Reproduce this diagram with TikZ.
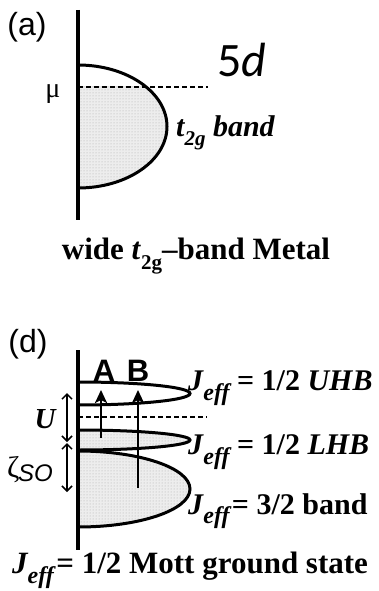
\documentclass[tikz,border=0pt]{standalone}
\usepackage{fontspec}
\setmainfont{Liberation Serif}
\setsansfont{Liberation Sans}
\newfontfamily\calibri{Carlito}
\usetikzlibrary{arrows.meta,patterns}
\tikzset{
  axisline/.style={line width=3.6pt},
  bandline/.style={line width=3pt},
  bandfill/.style={fill=gray!14},
  bandpat/.style={pattern=dots, pattern color=gray!65},
  dashline/.style={line width=1.4pt, dash pattern=on 5pt off 3pt},
  lbl/.style={inner sep=0pt, anchor=west},
  biglbl/.style={inner sep=0pt, font=\fontsize{31}{33}\selectfont\bfseries},
  panel/.style={inner sep=0pt, font=\sffamily\fontsize{32}{34}\selectfont},
  exarrow/.style={line width=2.6pt, -{Stealth[length=13pt,width=12pt,inset=3pt]}},
  gaparrow/.style={line width=1.5pt, {Straight Barb[length=5pt,width=10pt]}-{Straight Barb[length=5pt,width=10pt]}},
}
\newcommand{\Jeff}{\textit{J}\kern-0.02em\raisebox{-0.32em}{\fontsize{24}{26}\selectfont\itshape eff}}
\begin{document}
\begin{tikzpicture}[x=1pt,y=-1pt]
\useasboundingbox (0,0) rectangle (379,591);
% ---------- panel (a)
\node[panel] (pa) at (27,27) {(a)};
\node[inner sep=0pt, font=\calibri\fontsize{48}{50}\selectfont] (fived) at (242,60) {5\textit{d}};
\begin{scope}
  \clip (78,87) rectangle (250,200);
  \fill[bandfill] (78,65) arc[start angle=-90,end angle=90,x radius=89,y radius=61.5] -- cycle;
  \fill[bandpat] (78,65) arc[start angle=-90,end angle=90,x radius=89,y radius=61.5] -- cycle;
\end{scope}
\draw[bandline] (78,65) arc[start angle=-90,end angle=90,x radius=89,y radius=61.5];
\coordinate (mua) at (78,87);
\coordinate (mub) at (208,87);
\draw[dashline] (mua) -- (mub);
\draw[axisline] (78,10) -- (78,220);
\node[inner sep=0pt, font=\fontsize{28}{30}\selectfont] (mu) at (53,94) {μ};
\node[lbl, font=\fontsize{30}{32}\selectfont\bfseries\itshape] (t2g) at (176,133) {t\raisebox{-0.3em}{\fontsize{21}{22}\selectfont 2g} band};
\node[biglbl] (capa) at (196,256) {wide \textit{t}\raisebox{-0.3em}{\fontsize{21}{22}\selectfont 2g}--band Metal};
% ---------- panel (d)
\node[panel] (pd) at (28,344) {(d)};
\fill[bandfill] (78,451) arc[start angle=-90,end angle=90,x radius=112,y radius=38] -- cycle;
\fill[bandpat] (78,451) arc[start angle=-90,end angle=90,x radius=112,y radius=38] -- cycle;
\fill[bandfill] (78,430) arc[start angle=-90,end angle=90,x radius=112,y radius=10] -- cycle;
\fill[bandpat] (78,430) arc[start angle=-90,end angle=90,x radius=112,y radius=10] -- cycle;
\draw[bandline] (78,451) arc[start angle=-90,end angle=90,x radius=112,y radius=38];
\draw[bandline] (78,430) arc[start angle=-90,end angle=90,x radius=112,y radius=10];
\draw[bandline] (78,382) arc[start angle=-90,end angle=90,x radius=112,y radius=11.5];
\coordinate (mdl) at (78,417);
\coordinate (mdr) at (207,417);
\draw[dashline] (mdl) -- (mdr);
\draw[axisline] (78,350) -- (78,550);
\coordinate (As) at (101,438);
\coordinate (Ae) at (101,390);
\coordinate (Bs) at (138,488);
\coordinate (Be) at (138,390);
\draw[exarrow] (As) -- (Ae);
\draw[exarrow] (Bs) -- (Be);
\node[inner sep=0pt, font=\sffamily\bfseries\fontsize{31}{33}\selectfont] (A) at (104,371) {A};
\node[inner sep=0pt, font=\sffamily\bfseries\fontsize{31}{33}\selectfont] (B) at (138,371) {B};
\coordinate (U1) at (67,393);
\coordinate (U2) at (67,442);
\coordinate (Z1) at (67,443);
\coordinate (Z2) at (67,492);
\draw[gaparrow] (U1) -- (U2);
\draw[gaparrow] (Z1) -- (Z2);
\node[inner sep=0pt, font=\fontsize{29}{30}\selectfont\bfseries\itshape] (U) at (45,419) {U};
\node[inner sep=0pt, font=\fontsize{30}{32}\selectfont] (zeta) at (30,470) {ζ\kern-0.05em\raisebox{-0.12em}{\sffamily\itshape\fontsize{24}{26}\selectfont SO}};
\node[lbl, font=\fontsize{30}{32}\selectfont\bfseries] (uhb) at (188,388) {\Jeff\ = 1/2 \textit{UHB}};
\node[lbl, font=\fontsize{30}{32}\selectfont\bfseries] (lhb) at (188,452) {\Jeff\ = 1/2 \textit{LHB}};
\node[lbl, font=\fontsize{30}{32}\selectfont\bfseries] (jb) at (188,511) {\Jeff\kern0.08em= 3/2 band};
\node[biglbl] (capd) at (190,570) {\Jeff\kern0.08em= 1/2 Mott ground state};
\end{tikzpicture}
\end{document}
